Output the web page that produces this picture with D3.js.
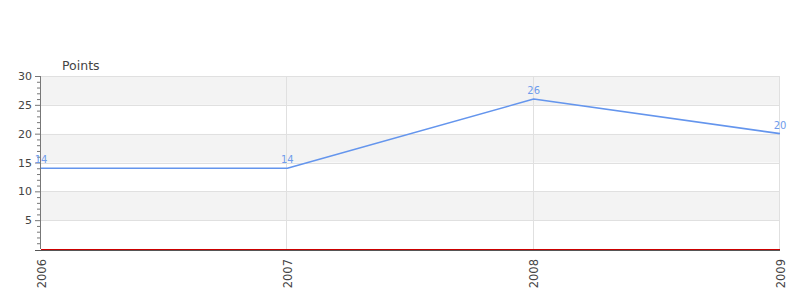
<!DOCTYPE html>
<html>
<head>
<meta charset="utf-8">
<script src="https://cdn.jsdelivr.net/npm/d3@7"></script>
<style>
  body { margin: 0; background: #fff; }
  text { font-family: "DejaVu Sans", sans-serif; }
</style>
</head>
<body>
<div id="chart"></div>
<script>
var years = ['2006', '2007', '2008', '2009'];
var points = [14, 14, 26, 20];
var yTicks = [5, 10, 15, 20, 25, 30];

var svgWidth = 800;
var svgHeight = 300;
var leftMargin = 41;
var rightMargin = 20;
var topMargin = 76;
var bottomMargin = 51;
var chartWidth = svgWidth - leftMargin - rightMargin;
var chartHeight = svgHeight - topMargin - bottomMargin;

var svg = d3.select('#chart').append('svg')
    .attr('width', svgWidth)
    .attr('height', svgHeight);

var chart = svg.append('g')
    .attr('transform', `translate(${leftMargin}, ${topMargin})`);

var xScale = d3.scalePoint()
    .domain(years)
    .range([0, chartWidth]);
var yScale = d3.scaleLinear()
    .domain([0, 30])
    .range([chartHeight, 0]);

// alternating bands
var bands = d3.range(0, 30, 5);
chart.selectAll('.band')
    .data(bands)
    .enter()
    .append('rect')
    .attr('x', 0)
    .attr('width', chartWidth)
    .attr('y', d => yScale(d + 5))
    .attr('height', d => yScale(d) - yScale(d + 5))
    .attr('fill', d => (d / 5) % 2 === 1 ? '#f3f3f3' : '#fff');

// grid lines
chart.selectAll('.hgrid')
    .data(yTicks)
    .enter()
    .append('line')
    .attr('x1', 0)
    .attr('x2', chartWidth)
    .attr('y1', d => Math.round(yScale(d)) + 0.5)
    .attr('y2', d => Math.round(yScale(d)) + 0.5)
    .attr('stroke', '#e0e0e0');

chart.selectAll('.vgrid')
    .data(years.slice(1))
    .enter()
    .append('line')
    .attr('x1', d => Math.round(xScale(d)) - 0.5)
    .attr('x2', d => Math.round(xScale(d)) - 0.5)
    .attr('y1', 0)
    .attr('y2', chartHeight)
    .attr('stroke', '#e0e0e0');

// y axis with minor ticks
var yAxis = d3.axisLeft(yScale)
    .tickValues(d3.range(1, 31))
    .tickSize(0)
    .tickFormat('');
var yAxisG = chart.append('g').call(yAxis);
yAxisG.select('.domain').remove();
yAxisG.selectAll('.tick line')
    .attr('x1', d => d % 5 === 0 ? -6 : -4)
    .attr('x2', 0)
    .attr('stroke', '#777');
yAxisG.selectAll('.tick')
    .filter(d => d % 5 === 0)
    .append('text')
    .attr('x', -9)
    .attr('dy', '0.32em')
    .attr('text-anchor', 'end')
    .attr('fill', '#444')
    .attr('font-size', 11)
    .text(d => d);

chart.append('line')
    .attr('x1', -0.5).attr('x2', -0.5)
    .attr('y1', 0).attr('y2', chartHeight)
    .attr('stroke', '#777');

// x axis
var xAxis = d3.axisBottom(xScale).tickSize(0);
var xAxisG = chart.append('g')
    .attr('transform', `translate(0, ${chartHeight})`)
    .call(xAxis);
xAxisG.select('.domain').remove();
xAxisG.selectAll('.tick text')
    .attr('transform', 'rotate(-90)')
    .attr('x', -10)
    .attr('y', 0)
    .attr('dy', '0.35em')
    .attr('text-anchor', 'end')
    .attr('fill', '#444')
    .attr('font-size', 11.5)
    .attr('font-family', '"DejaVu Sans", sans-serif');

chart.append('line')
    .attr('x1', -6).attr('x2', chartWidth)
    .attr('y1', chartHeight + 1.5).attr('y2', chartHeight + 1.5)
    .attr('stroke', '#555');

// zero line
chart.append('line')
    .attr('x1', 0).attr('x2', chartWidth)
    .attr('y1', yScale(0) + 0.5).attr('y2', yScale(0) + 0.5)
    .attr('stroke', '#cc0000');

// right border
chart.append('line')
    .attr('x1', chartWidth - 0.5).attr('x2', chartWidth - 0.5)
    .attr('y1', 0).attr('y2', chartHeight)
    .attr('stroke', '#e0e0e0');

// data line
var line = d3.line()
    .x((d, i) => xScale(years[i]))
    .y(d => yScale(d));

chart.append('path')
    .datum(points)
    .attr('d', line)
    .attr('fill', 'none')
    .attr('stroke', '#6495ed')
    .attr('stroke-width', 1.6)
    .attr('stroke-linejoin', 'round');

chart.selectAll('.label')
    .data(points)
    .enter()
    .append('text')
    .attr('x', (d, i) => xScale(years[i]))
    .attr('y', d => yScale(d) - 5)
    .attr('text-anchor', 'middle')
    .attr('fill', '#6f9cec')
    .attr('font-size', 10)
    .text(d => d);

// axis title
svg.append('text')
    .attr('x', 62)
    .attr('y', 70)
    .attr('fill', '#444')
    .attr('font-size', 12.5)
    .text('Points');
</script>
</body>
</html>
